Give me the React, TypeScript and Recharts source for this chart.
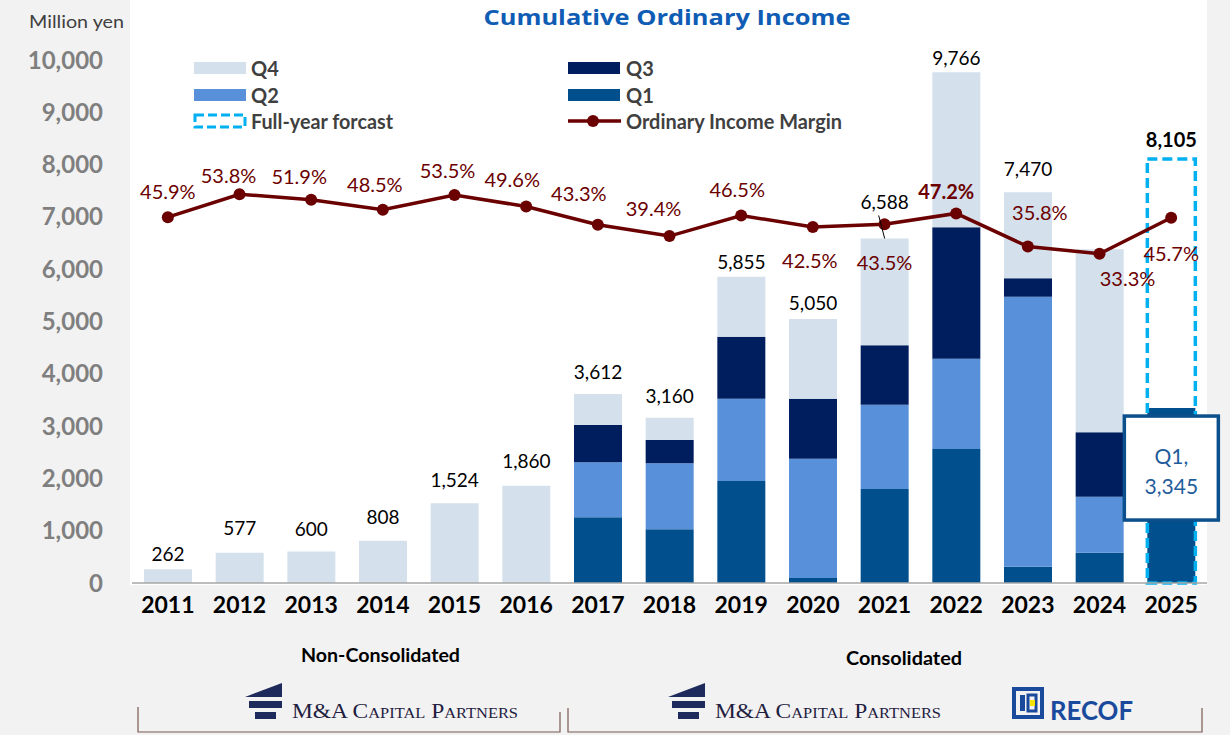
import React from 'react';
import { ComposedChart, Bar, Line, XAxis, YAxis, LabelList } from 'recharts';

// values (million yen, cumulative within each fiscal year)
const years = ['2011', '2012', '2013', '2014', '2015', '2016', '2017', '2018', '2019', '2020', '2021', '2022', '2023', '2024', '2025'];
const q1Cum = [null, null, null, null, null, null, 1256, 1026, 1950, 96, 1797, 2562, 312, 580, 3345];
const q2Cum = [null, null, null, null, null, null, 2307, 2288, 3524, 2377, 3410, 4289, 5475, 1651, null];
const q3Cum = [null, null, null, null, null, null, 3021, 2734, 4710, 3524, 4544, 6801, 5826, 2881, null];
const fullYear = [262, 577, 600, 808, 1524, 1860, 3612, 3160, 5855, 5050, 6588, 9766, 7470, 6380, null];
const forecast = [null, null, null, null, null, null, null, null, null, null, null, null, null, null, 8105];
const marginPct = [45.9, 53.8, 51.9, 48.5, 53.5, 49.6, 43.3, 39.4, 46.5, 42.5, 43.5, 47.2, 35.8, 33.3, 45.7];
const hiddenTotals = ['2024'];
const yTicks = [0, 1000, 2000, 3000, 4000, 5000, 6000, 7000, 8000, 9000, 10000];

const C_Q1 = '#01508d';
const C_Q2 = '#5891da';
const C_Q3 = '#001e5e';
const C_Q4 = '#d4e1ec';
const C_LINE = '#6b0000';
const C_FC = '#00b0f0';
const FONT = 'Lato, "Liberation Sans", sans-serif';

const W = 1230;
const H = 735;
const MARGIN = { top: 60, right: 23, bottom: 122, left: 12 };
const X_AXIS_H = 30;
const PLOT_BOTTOM = H - MARGIN.bottom - X_AXIS_H;

// label placement tweaks (px), per year
const TOTAL_LIFT = [16, 25, 23, 24, 24, 25, 23, 22, 15, 16, 37, 15, 24, 0, 20];
const MARGIN_LABEL_OFFSET: [number, number][] = [
  [0, -26], [-11, -19], [-12, -24], [-8, -26], [-7, -25], [-14, -27], [-19, -32], [-16, -28],
  [-4, -26], [-3, 33], [0, 38], [-10, -22], [12, -35], [28, 24], [0, 35],
];

const rows = years.map((year, i) => {
  const c1 = q1Cum[i] ?? 0;
  const c2 = q2Cum[i] ?? c1;
  const c3 = q3Cum[i] ?? c2;
  const full = fullYear[i];
  const fcv = forecast[i];
  return {
    year,
    q1: c1,
    q2: c2 - c1,
    q3: c3 - c2,
    q4: full != null ? full - c3 : 0,
    fc: fcv != null ? fcv - c1 : 0,
    total: full != null && !hiddenTotals.includes(year) ? full : null,
    fcTotal: fcv,
    margin: marginPct[i],
  };
});

const fmt = (v: number) => v.toLocaleString('en-US');

const ForecastShape = (p: any) => {
  const { x, y, width, height } = p;
  if (!height || height <= 0) return <g />;
  return (
    <rect x={x} y={y} width={width} height={PLOT_BOTTOM - y} fill="none" stroke={C_FC} strokeWidth={3.5} strokeDasharray="10 5" />
  );
};

const renderTotal = (p: any) => {
  const { value, index } = p;
  if (value == null) return null;
  const x = Number(p.x), y = Number(p.y), width = Number(p.width);
  const cx = x + width / 2;
  const ly = y - TOTAL_LIFT[index];
  return (
    <g>
      <text x={cx} y={ly} textAnchor="middle" dominantBaseline="central" fontFamily={FONT} fontSize={19} fill="#000">
        {fmt(value)}
      </text>
      {years[index] === '2021' && <line x1={cx - 6} y1={ly + 14} x2={cx} y2={y} stroke="#000" strokeWidth={1} />}
    </g>
  );
};

const renderForecast = (p: any) => {
  const { value, index } = p;
  if (value == null) return null;
  const x = Number(p.x), y = Number(p.y), width = Number(p.width), height = Number(p.height);
  const cx = x + width / 2;
  const q1Top = y + height;
  const q1 = q1Cum[index] ?? 0;
  return (
    <g>
      <text x={cx} y={y - TOTAL_LIFT[index]} textAnchor="middle" dominantBaseline="central" fontFamily={FONT} fontWeight={700} fontSize={20} fill="#000">
        {fmt(value)}
      </text>
      <rect x={cx - 47} y={q1Top + 8} width={94} height={104} fill="#fff" stroke="#0b4f8c" strokeWidth={3.5} />
      <text x={cx} y={q1Top + 47} textAnchor="middle" dominantBaseline="central" fontFamily={FONT} fontSize={21} fill="#1f5c9c">
        Q1,
      </text>
      <text x={cx} y={q1Top + 77} textAnchor="middle" dominantBaseline="central" fontFamily={FONT} fontSize={21} fill="#1f5c9c">
        {fmt(q1)}
      </text>
    </g>
  );
};

const renderMargin = (p: any) => {
  const { value, index } = p;
  const [dx, dy] = MARGIN_LABEL_OFFSET[index];
  return (
    <text x={Number(p.x) + dx} y={Number(p.y) + dy} textAnchor="middle" dominantBaseline="central" fontFamily={FONT}
      fontSize={20} fontWeight={years[index] === '2022' ? 700 : 400} fill={C_LINE}>
      {value.toFixed(1)}%
    </text>
  );
};

const McpLogo = ({ x, y }: { x: number; y: number }) => (
  <g>
    <polygon points={`${x},${y + 14} ${x + 37},${y} ${x + 37},${y + 14}`} fill="#1f2a5c" />
    <rect x={x + 4} y={y + 18} width={33} height={7} fill="#1f2a5c" />
    <rect x={x + 10} y={y + 29} width={21} height={7} fill="#1f2a5c" />
    <text x={x + 47} y={y + 35} fontFamily='"Liberation Serif", "DejaVu Serif", serif' fontSize={20} fill="#1f2040"
      textLength={226} lengthAdjust="spacingAndGlyphs" style={{ fontVariant: 'small-caps' }}>
      M&amp;A Capital Partners
    </text>
  </g>
);

const Backdrop = () => (
  <svg width={W} height={H} style={{ position: 'absolute', left: 0, top: 0 }}>
    <rect x={0} y={0} width={W} height={H} fill="#f2f2f2" />
    <rect x={130} y={0} width={1077} height={585} fill="#fff" />
    <text x={29} y={21} dominantBaseline="central" fontFamily={FONT} fontSize={18} fill="#404040"
      textLength={95} lengthAdjust="spacingAndGlyphs">Million yen</text>
    <text x={667} y={17} textAnchor="middle" dominantBaseline="central" fontFamily='"Open Sans", sans-serif' fontWeight={700}
      fontSize={21} fill="#0f5cb4" textLength={367} lengthAdjust="spacingAndGlyphs">
      Cumulative Ordinary Income
    </text>
    {/* legend */}
    <g fontFamily={FONT} fontWeight={700} fontSize={20} fill="#404040">
      <rect x={194} y={62} width={52} height={12} fill={C_Q4} />
      <text x={251} y={68} dominantBaseline="central">Q4</text>
      <rect x={194} y={89} width={52} height={12} fill={C_Q2} />
      <text x={251} y={95} dominantBaseline="central">Q2</text>
      <rect x={195} y={115} width={50} height={12} fill="none" stroke={C_FC} strokeWidth={3} strokeDasharray="9 4" />
      <text x={251} y={121} dominantBaseline="central" textLength={142} lengthAdjust="spacingAndGlyphs">Full-year forcast</text>
      <rect x={568} y={62} width={52} height={12} fill={C_Q3} />
      <text x={626} y={68} dominantBaseline="central">Q3</text>
      <rect x={568} y={89} width={52} height={12} fill={C_Q1} />
      <text x={626} y={95} dominantBaseline="central">Q1</text>
      <line x1={568} y1={121} x2={621} y2={121} stroke={C_LINE} strokeWidth={3.5} />
      <circle cx={593} cy={121} r={6} fill={C_LINE} />
      <text x={626} y={121} dominantBaseline="central" textLength={216} lengthAdjust="spacingAndGlyphs">Ordinary Income Margin</text>
    </g>
    {/* bottom captions */}
    <text x={301} y={654} dominantBaseline="central" fontFamily={FONT} fontWeight={700} fontSize={19} fill="#000"
      textLength={159} lengthAdjust="spacingAndGlyphs">Non-Consolidated</text>
    <text x={846} y={657} dominantBaseline="central" fontFamily={FONT} fontWeight={700} fontSize={19} fill="#000"
      textLength={116} lengthAdjust="spacingAndGlyphs">Consolidated</text>
    <polyline points="138,707 138,732 560,732 560,712" fill="none" stroke="#7a5a50" strokeWidth={1.2} />
    <polyline points="568,708 568,732 1202,732 1202,708" fill="none" stroke="#7a5a50" strokeWidth={1.2} />
    <McpLogo x={245} y={683} />
    <McpLogo x={668} y={683} />
    <g>
      <rect x={1014} y={689} width={28} height={28} fill="none" stroke="#1a4a9c" strokeWidth={4} />
      <rect x={1020} y={695} width={5} height={16} fill="#1a4a9c" />
      <rect x={1028} y={695} width={8} height={16} fill="none" stroke="#1a4a9c" strokeWidth={3} />
      <rect x={1030} y={700} width={5} height={6} fill="#f5e400" />
      <text x={1050} y={720} fontFamily={FONT} fontWeight={700} fontSize={26} fill="#1a4a9c" textLength={83} lengthAdjust="spacingAndGlyphs">RECOF</text>
    </g>
  </svg>
);

export default function App() {
  return (
    <div style={{ position: 'absolute', left: 0, top: 0, width: W, height: H, overflow: 'hidden' }}>
      <Backdrop />
      <div style={{ position: 'absolute', left: 0, top: 0 }}>
        <ComposedChart width={W} height={H} data={rows} margin={MARGIN}>
          <XAxis dataKey="year" xAxisId={0} height={X_AXIS_H} tickLine={false} tickMargin={8}
            axisLine={{ stroke: '#a6a6a6', strokeWidth: 1.5 }}
            tick={{ fill: '#000', fontSize: 23, fontWeight: 700, fontFamily: FONT }} />
          <YAxis yAxisId="left" width={120} domain={[0, 10000]} ticks={yTicks} interval={0} tickLine={false} axisLine={false}
            tickMargin={23} tickFormatter={fmt}
            tick={{ fill: '#7f7f7f', fontSize: 24, fontWeight: 700, fontFamily: FONT }} />
          <YAxis yAxisId="right" orientation="right" hide domain={[-80, 100]} />
          <Bar dataKey="q1" stackId="a" yAxisId="left" fill={C_Q1} barSize={48} isAnimationActive={false} />
          <Bar dataKey="q2" stackId="a" yAxisId="left" fill={C_Q2} barSize={48} isAnimationActive={false} />
          <Bar dataKey="q3" stackId="a" yAxisId="left" fill={C_Q3} barSize={48} isAnimationActive={false} />
          <Bar dataKey="q4" stackId="a" yAxisId="left" fill={C_Q4} barSize={48} isAnimationActive={false}>
            <LabelList dataKey="total" content={renderTotal} />
          </Bar>
          <Bar dataKey="fc" stackId="a" yAxisId="left" barSize={48} shape={ForecastShape} isAnimationActive={false}>
            <LabelList dataKey="fcTotal" content={renderForecast} />
          </Bar>
          <Line dataKey="margin" yAxisId="right" stroke={C_LINE} strokeWidth={3.5} isAnimationActive={false}
            dot={{ r: 6, fill: C_LINE, stroke: C_LINE, strokeWidth: 0 }} activeDot={false}>
            <LabelList dataKey="margin" content={renderMargin} />
          </Line>
        </ComposedChart>
      </div>
    </div>
  );
}
